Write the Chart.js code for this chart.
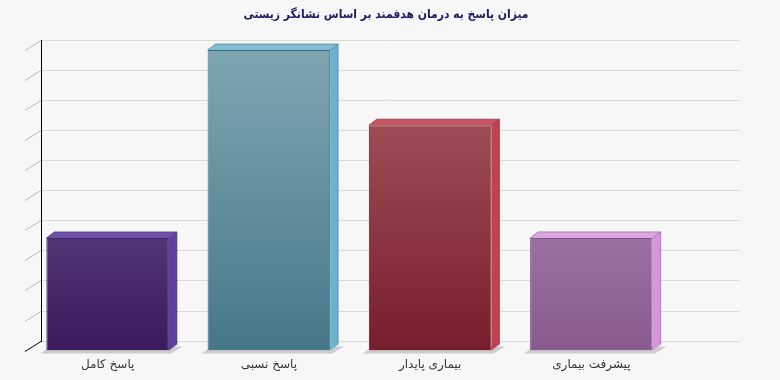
<!DOCTYPE html>
<html>
<head>
<meta charset="utf-8">
<script src="https://cdn.jsdelivr.net/npm/chart.js@4"></script>
<style>
  html, body { margin: 0; padding: 0; background: #f7f7f7; }
  #wrap { width: 780px; height: 380px; }
</style>
</head>
<body>
<div id="wrap"><canvas id="chart" width="780" height="380"></canvas></div>
<script>
"use strict";

// ── Data ─────────────────────────────────────────────────────────────────────
const titleText  = "میزان پاسخ به درمان هدفمند بر اساس نشانگر زیستی";
const categories = ["پاسخ کامل", "پاسخ نسبی", "بیماری پایدار", "پیشرفت بیماری"];
const values     = [15, 40, 30, 15];

// ── Colours per bar: front gradient top/bottom, side, top face, edge ────────
const frontTop = ["#76619e", "#7ea6b1", "#ab5c65", "#bd94c4"];
const frontBot = ["#3a1a5c", "#46788a", "#761e2c", "#885a8e"];
const sideCol  = ["#5e40a0", "#6cb2cf", "#c2404f", "#d596dc"];
const topCol   = ["#6f4fa8", "#80bdd2", "#c65462", "#dca6e0"];
const edgeCol  = ["#3a2466", "#3f6f80", "#6e1e2a", "#7e5288"];

// 3D offsets
const AX_DX = 16, AX_DY = 10;   // axis depth
const BAR_DX = 8, BAR_DY = 6;   // bar depth

const threeD = {
  id: "threeD",
  beforeDatasetsDraw(chart) {
    const { ctx, chartArea, scales: { y } } = chart;
    const x0 = chartArea.left - 2;
    const backRight = 740;
    ctx.save();
    ctx.lineWidth = 1;
    y.ticks.forEach(t => {
      const yf = Math.round(y.getPixelForValue(t.value)) + 0.5;
      // back plane grid line
      ctx.strokeStyle = "#dadada";
      ctx.beginPath();
      ctx.moveTo(x0 + AX_DX, yf - AX_DY);
      ctx.lineTo(backRight, yf - AX_DY);
      ctx.stroke();
      // diagonal tick
      ctx.strokeStyle = t.value === 0 ? "#000" : "#b8b8b8";
      ctx.beginPath();
      ctx.moveTo(x0, yf);
      ctx.lineTo(x0 + AX_DX, yf - AX_DY);
      ctx.stroke();
    });
    // back vertical axis
    const yTop = Math.round(y.getPixelForValue(y.max)) - AX_DY;
    const yBot = Math.round(y.getPixelForValue(0)) - AX_DY;
    ctx.strokeStyle = "#000";
    ctx.beginPath();
    ctx.moveTo(x0 + AX_DX + 0.5, yTop);
    ctx.lineTo(x0 + AX_DX + 0.5, yBot + 1);
    ctx.stroke();

    // floor shadows
    const meta = chart.getDatasetMeta(0);
    ctx.fillStyle = "rgba(170,170,170,0.55)";
    meta.data.forEach(bar => {
      const l = bar.x - bar.width / 2, r = bar.x + bar.width / 2, b = bar.base;
      ctx.beginPath();
      ctx.moveTo(l - 6, b + 3);
      ctx.lineTo(r + 2, b + 3);
      ctx.lineTo(r + 14, b - 4);
      ctx.lineTo(l + 4, b - 4);
      ctx.closePath();
      ctx.fill();
    });
    ctx.restore();
  },
  afterDatasetsDraw(chart) {
    const { ctx } = chart;
    const meta = chart.getDatasetMeta(0);
    ctx.save();
    meta.data.forEach((bar, i) => {
      const l = bar.x - bar.width / 2, r = bar.x + bar.width / 2;
      const t = bar.y, b = bar.base;
      // side face
      ctx.fillStyle = sideCol[i];
      ctx.beginPath();
      ctx.moveTo(r, t);
      ctx.lineTo(r + BAR_DX, t - BAR_DY);
      ctx.lineTo(r + BAR_DX, b - BAR_DY);
      ctx.lineTo(r, b);
      ctx.closePath();
      ctx.fill();
      // top face
      ctx.fillStyle = topCol[i];
      ctx.beginPath();
      ctx.moveTo(l, t);
      ctx.lineTo(l + BAR_DX, t - BAR_DY);
      ctx.lineTo(r + BAR_DX, t - BAR_DY);
      ctx.lineTo(r, t);
      ctx.closePath();
      ctx.fill();
      // edges
      ctx.strokeStyle = edgeCol[i];
      ctx.lineWidth = 1;
      ctx.globalAlpha = 0.6;
      ctx.beginPath();
      ctx.moveTo(l, t);
      ctx.lineTo(l + BAR_DX, t - BAR_DY);
      ctx.lineTo(r + BAR_DX, t - BAR_DY);
      ctx.lineTo(r + BAR_DX, b - BAR_DY);
      ctx.moveTo(r, t);
      ctx.lineTo(r + BAR_DX, t - BAR_DY);
      ctx.stroke();
      ctx.globalAlpha = 1;
    });
    ctx.restore();
  },
  afterDraw(chart) {
    // title, centred on the whole canvas
    const { ctx } = chart;
    ctx.save();
    ctx.fillStyle = "#1c1c64";
    ctx.font = "bold 12px 'DejaVu Sans Condensed', 'DejaVu Sans', sans-serif";
    ctx.textAlign = "center";
    ctx.textBaseline = "middle";
    ctx.direction = "rtl";
    ctx.fillText(titleText, 386, 15);
    ctx.restore();
  }
};

function frontGradient(context) {
  const { chart, dataIndex } = context;
  const area = chart.chartArea;
  if (!area) return frontTop[dataIndex];
  const bar = chart.getDatasetMeta(0).data[dataIndex];
  const top = bar && isFinite(bar.y) ? bar.y : area.top;
  const g = chart.ctx.createLinearGradient(0, top, 0, area.bottom);
  g.addColorStop(0, frontTop[dataIndex]);
  g.addColorStop(1, frontBot[dataIndex]);
  return g;
}

new Chart(document.getElementById("chart"), {
  type: "bar",
  data: {
    labels: categories,
    datasets: [{
      data: values,
      backgroundColor: frontGradient,
      borderColor: edgeCol,
      borderWidth: 1,
      categoryPercentage: 1,
      barPercentage: 0.76,
    }],
  },
  options: {
    responsive: false,
    animation: false,
    layout: { padding: { left: 27, right: 108, top: 50, bottom: 9 } },
    plugins: {
      legend: { display: false },
      tooltip: { enabled: false },
      title: { display: false },
    },
    scales: {
      x: {
        grid: { display: false },
        border: { display: false },
        ticks: {
          color: "#333",
          font: { family: "DejaVu Sans", size: 12 },
          padding: -1,
        },
      },
      y: {
        display: false,
        min: 0,
        max: 40,
        ticks: { stepSize: 4 },
      },
    },
  },
  plugins: [threeD],
});
</script>
</body>
</html>
